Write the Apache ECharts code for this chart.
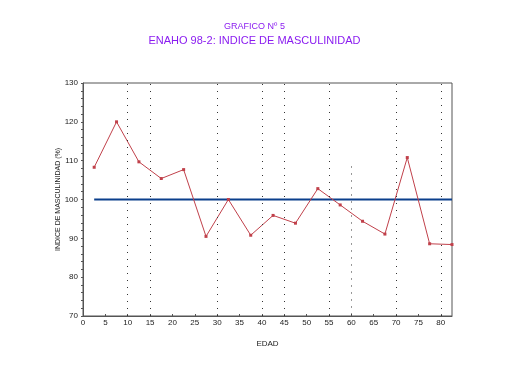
<!DOCTYPE html>
<html>
<head>
<meta charset="utf-8">
<script src="https://cdn.jsdelivr.net/npm/echarts@6/dist/echarts.min.js"></script>
<style>html,body{margin:0;padding:0;background:#fff}#c{width:509px;height:384px}</style>
</head>
<body>
<div id="c"></div>
<script>
const ages = [2.5, 7.5, 12.5, 17.5, 22.5, 27.5, 32.5, 37.5, 42.5, 47.5, 52.5, 57.5, 62.5, 67.5, 72.5, 77.5, 82.5];
const indice = [108.3, 120.0, 109.7, 105.4, 107.7, 90.5, 100.0, 90.8, 95.9, 93.9, 102.8, 98.6, 94.4, 91.1, 110.8, 88.6, 88.4];
const referencia = [100, 100];
const referenciaAges = [2.5, 82.5];
const gridLinesX = [10, 15, 30, 40, 45, 55, 70, 80];
const partialGridX = 60;
const partialGridTop = 108.5;
const yTicks = [70, 80, 90, 100, 110, 120, 130];

const chart = echarts.init(document.getElementById('c'), null, {renderer: 'canvas'});
const font = 'Liberation Sans, Arial, sans-serif';
chart.setOption({
  animation: false,
  title: [
    {text: 'GRAFICO Nº 5', left: 'center', top: 17, textStyle: {fontFamily: font, fontSize: 9, fontWeight: 'normal', color: '#8a1cf0'}},
    {text: 'ENAHO 98-2: INDICE DE MASCULINIDAD', left: 'center', top: 30, textStyle: {fontFamily: font, fontSize: 11, fontWeight: 'normal', color: '#8a1cf0'}}
  ],
  grid: {left: 83, right: 57, top: 83, bottom: 68, show: true, borderColor: '#555', borderWidth: 1, containLabel: false},
  xAxis: {
    type: 'value', min: 0, max: 82.5, interval: 5,
    name: 'EDAD', nameLocation: 'middle', nameGap: 24,
    nameTextStyle: {fontFamily: font, fontSize: 8, color: '#222'},
    axisLine: {lineStyle: {color: '#555', width: 1}},
    axisTick: {inside: true, length: 2, lineStyle: {color: '#555'}},
    axisLabel: {showMaxLabel: false, fontFamily: font, fontSize: 8, color: '#222', margin: 3},
    splitLine: {show: false}
  },
  yAxis: {
    type: 'value', min: 70, max: 130, interval: 10,
    name: 'INDICE DE MASCULINIDAD (%)', nameLocation: 'middle', nameGap: 21, nameRotate: 90,
    nameMoveOverlap: false,
    nameTextStyle: {fontFamily: font, fontSize: 7, color: '#222'},
    axisLine: {lineStyle: {color: '#555', width: 1}},
    axisTick: {length: 2, lineStyle: {color: '#555'}},
    minorTick: {show: true, splitNumber: 5, length: 2, lineStyle: {color: '#555'}},
    axisLabel: {fontFamily: font, fontSize: 8, color: '#222', margin: 5,
      formatter: v => yTicks.includes(v) ? String(v) : ''},
    splitLine: {show: false}
  },
  series: [
    {
      type: 'line', data: referenciaAges.map((a, i) => [a, referencia[i]]),
      symbol: 'none', lineStyle: {color: '#0b3f8c', width: 2}, z: 3,
      markLine: {
        silent: true, symbol: 'none', label: {show: false},
        lineStyle: {color: '#333', width: 1, type: [1, 6]},
        data: gridLinesX.map(x => ({xAxis: x})).concat([[{coord: [partialGridX, partialGridTop], lineStyle: {color: '#333', width: 1, type: [1, 6]}}, {coord: [partialGridX, 70]}]])
      }
    },
    {
      type: 'line', data: ages.map((a, i) => [a, indice[i]]),
      symbol: 'rect', symbolSize: 3, showSymbol: true,
      itemStyle: {color: '#c0404a'}, lineStyle: {color: '#c0404a', width: 1}, z: 4
    }
  ]
});
</script>
</body>
</html>
